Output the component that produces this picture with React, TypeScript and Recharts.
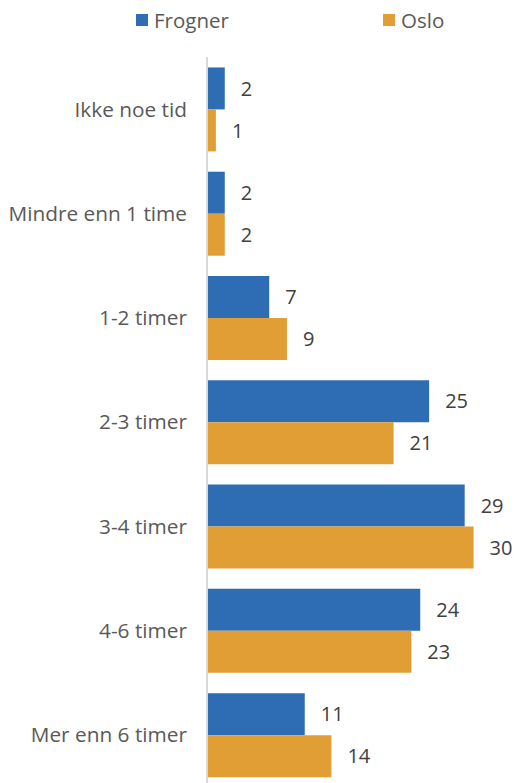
import React from "react";
import { Bar, BarChart, XAxis, YAxis, LabelList } from "recharts";

const categories = [
  "Ikke noe tid",
  "Mindre enn 1 time",
  "1-2 timer",
  "2-3 timer",
  "3-4 timer",
  "4-6 timer",
  "Mer enn 6 timer",
];
const frogner = [2, 2, 7, 25, 29, 24, 11];
const oslo = [1, 2, 9, 21, 30, 23, 14];

const BLUE = "#2E6DB4";
const ORANGE = "#E09E35";
const FONT = "'Open Sans', Roboto, sans-serif";

const data = categories.map((name, i) => ({ name, frogner: frogner[i], oslo: oslo[i] }));

function LegendItem({ color, label, left }: { color: string; label: string; left: number }) {
  return (
    <div style={{ position: "absolute", left, top: 6, display: "flex", alignItems: "center" }}>
      <div style={{ width: 12, height: 12, background: color, marginRight: 6 }} />
      <span style={{ fontSize: 20.5, color: "#595959" }}>{label}</span>
    </div>
  );
}

export default function App() {
  return (
    <div
      style={{
        position: "absolute",
        top: 0,
        left: 0,
        width: 518,
        height: 783,
        overflow: "hidden",
        background: "#fff",
        fontFamily: FONT,
      }}
    >
      <LegendItem color={BLUE} label="Frogner" left={136} />
      <LegendItem color={ORANGE} label="Oslo" left={383} />
      <BarChart
        layout="vertical"
        width={518}
        height={790}
        data={data}
        margin={{ top: 57, right: 0, bottom: 3, left: 0 }}
        barCategoryGap="10%"
        barGap={0}
      >
        <XAxis type="number" domain={[0, 35]} hide />
        <YAxis
          type="category"
          dataKey="name"
          width={207}
          axisLine={{ stroke: "#d9d9d9", strokeWidth: 2 }}
          tickLine={false}
          tickSize={0}
          tickMargin={20}
          tick={{ fill: "#595959", fontSize: 20.8 }}
        />
        <Bar dataKey="frogner" fill={BLUE} isAnimationActive={false}>
          <LabelList dataKey="frogner" position="right" offset={16} fill="#404040" fontSize={20} />
        </Bar>
        <Bar dataKey="oslo" fill={ORANGE} isAnimationActive={false}>
          <LabelList dataKey="oslo" position="right" offset={16} fill="#404040" fontSize={20} />
        </Bar>
      </BarChart>
    </div>
  );
}
